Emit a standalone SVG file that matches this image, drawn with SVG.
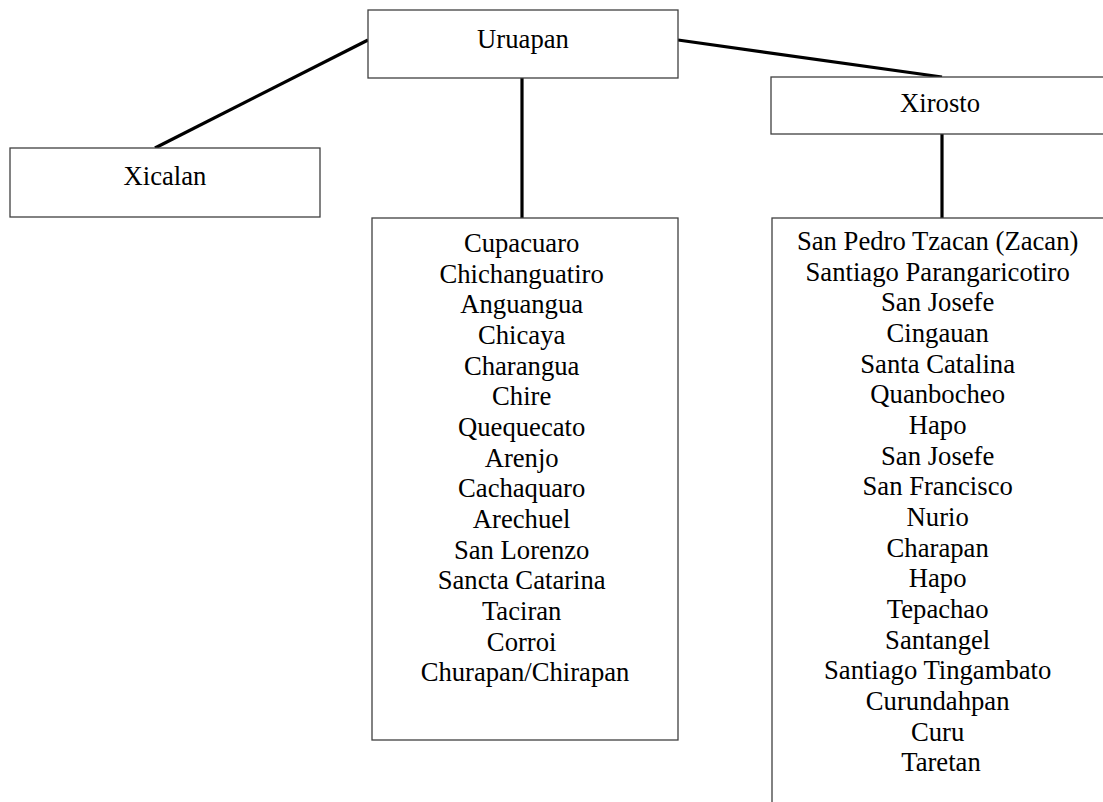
<svg xmlns="http://www.w3.org/2000/svg" width="1103" height="802" viewBox="0 0 1103 802">
  <style>
    .box { fill: #ffffff; stroke: #404040; stroke-width: 1.3; }
    .link { stroke: #000000; stroke-width: 3.2; fill: none; stroke-linecap: butt; }
    text { font-family: "Liberation Serif", "Times New Roman", serif; font-size: 26.67px; fill: #000000; text-anchor: middle; }
  </style>
  <rect width="1103" height="802" fill="#ffffff"/>

  <g id="connectors">
    <line class="link" x1="368" y1="40" x2="155" y2="148"/>
    <line class="link" x1="522" y1="78" x2="522" y2="218"/>
    <line class="link" x1="678" y1="40" x2="942" y2="77"/>
    <line class="link" x1="942" y1="134" x2="942" y2="218"/>
  </g>

  <g id="uruapan">
    <rect class="box" x="368" y="10" width="310" height="68"/>
    <text x="523" y="48">Uruapan</text>
  </g>

  <g id="xicalan">
    <rect class="box" x="10" y="148" width="310" height="69"/>
    <text x="165" y="185">Xicalan</text>
  </g>

  <g id="xirosto">
    <rect class="box" x="771" y="77" width="344" height="57"/>
    <text x="940" y="112">Xirosto</text>
  </g>

  <g id="uruapan-pueblos">
    <rect class="box" x="372" y="218" width="306" height="522"/>
    <text x="525" y="252">
      <tspan x="525" dy="0">Cupacuaro</tspan>
      <tspan x="525" dy="30.67">Chichanguatiro</tspan>
      <tspan x="525" dy="30.67">Anguangua</tspan>
      <tspan x="525" dy="30.67">Chicaya</tspan>
      <tspan x="525" dy="30.67">Charangua</tspan>
      <tspan x="525" dy="30.67">Chire</tspan>
      <tspan x="525" dy="30.67">Quequecato</tspan>
      <tspan x="525" dy="30.67">Arenjo</tspan>
      <tspan x="525" dy="30.67">Cachaquaro</tspan>
      <tspan x="525" dy="30.67">Arechuel</tspan>
      <tspan x="525" dy="30.67">San Lorenzo</tspan>
      <tspan x="525" dy="30.67">Sancta Catarina</tspan>
      <tspan x="525" dy="30.67">Taciran</tspan>
      <tspan x="525" dy="30.67">Corroi</tspan>
      <tspan x="525" dy="30.67">Churapan/Chirapan</tspan>
    </text>
  </g>

  <g id="xirosto-pueblos">
    <rect class="box" x="772" y="218" width="340" height="620"/>
    <text x="941" y="250">
      <tspan x="941" dy="0">San Pedro Tzacan (Zacan)</tspan>
      <tspan x="941" dy="30.67">Santiago Parangaricotiro</tspan>
      <tspan x="941" dy="30.67">San Josefe</tspan>
      <tspan x="941" dy="30.67">Cingauan</tspan>
      <tspan x="941" dy="30.67">Santa Catalina</tspan>
      <tspan x="941" dy="30.67">Quanbocheo</tspan>
      <tspan x="941" dy="30.67">Hapo</tspan>
      <tspan x="941" dy="30.67">San Josefe</tspan>
      <tspan x="941" dy="30.67">San Francisco</tspan>
      <tspan x="941" dy="30.67">Nurio</tspan>
      <tspan x="941" dy="30.67">Charapan</tspan>
      <tspan x="941" dy="30.67">Hapo</tspan>
      <tspan x="941" dy="30.67">Tepachao</tspan>
      <tspan x="941" dy="30.67">Santangel</tspan>
      <tspan x="941" dy="30.67">Santiago Tingambato</tspan>
      <tspan x="941" dy="30.67">Curundahpan</tspan>
      <tspan x="941" dy="30.67">Curu</tspan>
      <tspan x="941" dy="30.67">Taretan</tspan>
    </text>
  </g>
</svg>
